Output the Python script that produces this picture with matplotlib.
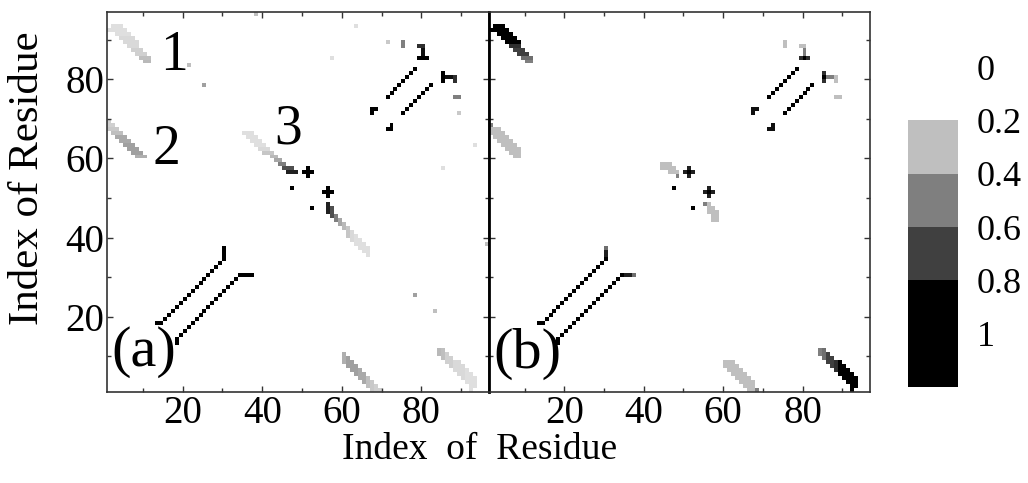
import numpy as np
import matplotlib
matplotlib.use('Agg')
import matplotlib.pyplot as plt
from matplotlib import transforms

plt.rcParams['font.family'] = ['Liberation Serif', 'DejaVu Serif']

N = 96  # number of residues
major_ticks = [20, 40, 60, 80]
minor_ticks = [10, 30, 50, 70, 90]
legend_levels = [0, 0.2, 0.4, 0.6, 0.8, 1.0]
legend_labels = ['0', '0.2', '0.4', '0.6', '0.8', '1']

# contacts above the diagonal (y > x); the map is symmetric, so they get mirrored
# strips given as rows: (y, [x, ...], value)
strip1_a = [(93, [2, 3, 4], 0.1), (92, [1, 2, 3, 4, 5], 0.1), (91, [3, 4, 5, 6], 0.1),
            (90, [4, 5, 6, 7], 0.12), (89, [5, 6, 7, 8], 0.12), (88, [6, 7, 8], 0.12),
            (87, [7, 8, 9], 0.15), (86, [8, 9, 10], 0.15), (85, [9, 10, 11], 0.2),
            (84, [10, 11], 0.22)]
strip2_a = [(69, [1], 0.15), (68, [1, 2], 0.15), (67, [1, 2, 3], 0.17), (66, [2, 3, 4], 0.2),
            (65, [3, 4, 5], 0.27), (64, [4, 5, 6], 0.27), (63, [5, 6, 7], 0.3),
            (62, [6, 7, 8], 0.3), (61, [7, 8, 9], 0.3), (60, [8, 9, 10], 0.25)]
strip3_a = [(66, [35, 36, 37], 0.1), (65, [36, 37, 38], 0.1), (64, [37, 38, 39], 0.1),
            (63, [38, 39, 40], 0.1), (62, [39, 40, 41], 0.12), (61, [40, 41, 42], 0.18),
            (60, [42, 43], 0.22), (59, [43, 44], 0.28), (58, [44, 45], 0.4),
            (57, [45, 46, 47], 0.55), (56, [46, 47, 48], 0.7)]

strip1_b = [(93, [2, 3, 4], 1.0), (92, [1, 2, 3, 4, 5], 1.0), (91, [3, 4, 5, 6], 1.0),
            (90, [4, 5, 6, 7], 0.9), (89, [5, 6, 7, 8], 0.8), (88, [6, 7, 8], 0.65),
            (87, [7, 8, 9], 0.6), (86, [8, 9, 10], 0.6), (85, [9, 10, 11], 0.45),
            (84, [10, 11], 0.4)]
strip2_b = [(68, [1], 0.4), (67, [1, 2, 3], 0.2), (66, [1, 2, 3, 4], 0.2), (65, [2, 3, 4, 5], 0.2),
            (64, [3, 4, 5, 6], 0.2), (63, [4, 5, 6, 7], 0.2), (62, [5, 6, 7, 8], 0.2),
            (61, [6, 7, 8], 0.2), (60, [7, 8], 0.2)]
strip3_b = [(58, [44, 45, 46], 0.2), (57, [44, 45, 46, 47], 0.2), (56, [46, 47, 48], 0.2),
            (55, [48], 0.4)]

# i, i+4 contacts (black dotted lines), same in both panels
helix1 = [(14, 18), (15, 19), (16, 20), (17, 21), (18, 22), (19, 23), (20, 24), (21, 25),
          (22, 26), (23, 27), (24, 28), (25, 29), (26, 30), (27, 31), (28, 32), (29, 33), (30, 34)]
helix2 = [(71, 75), (72, 76), (73, 77), (74, 78), (75, 79), (76, 80), (77, 81), (78, 82)]

# single cells (x, y, value)
cells_a = [(13, 18, 1.0), (30, 35, 0.85), (30, 36, 0.85), (30, 37, 0.85),
           (67, 71, 0.9), (67, 72, 0.9), (68, 72, 0.9),
           (79, 85, 0.9), (80, 85, 0.9), (81, 85, 0.85), (80, 86, 0.75), (80, 87, 0.75),
           (79, 88, 0.65), (80, 88, 0.65), (75, 88, 0.4), (75, 89, 0.4),
           (71, 89, 0.17), (57, 85, 0.1), (63, 93, 0.1), (38, 96, 0.2), (21, 83, 0.2), (25, 78, 0.3),
           (50, 56, 1.0), (51, 56, 1.0), (52, 56, 1.0), (51, 55, 1.0), (51, 57, 1.0), (47, 52, 1.0)]
cells_b = [(13, 18, 0.9), (30, 35, 0.7), (30, 36, 0.7), (30, 37, 0.45),
           (67, 71, 0.75), (67, 72, 0.75), (68, 72, 0.75),
           (79, 85, 0.65), (80, 85, 0.9), (81, 85, 0.65), (80, 86, 0.4), (80, 87, 0.4),
           (79, 88, 0.2), (80, 88, 0.2), (75, 88, 0.2), (75, 89, 0.2),
           (50, 56, 0.7), (51, 56, 1.0), (52, 56, 0.7), (51, 55, 0.7), (51, 57, 0.7), (47, 52, 1.0)]


def contact_matrix(strips, cells):
    m = np.zeros((N, N))
    pts = []
    for rows in strips:
        for y, xs, v in rows:
            pts += [(x, y, v) for x in xs]
    pts += cells
    for x, y, v in pts:
        m[y - 1, x - 1] = v
        m[x - 1, y - 1] = v
    return m


mat_a = contact_matrix([strip1_a, strip2_a, strip3_a], cells_a)
mat_b = contact_matrix([strip1_b, strip2_b, strip3_b], cells_b)

# helix dots, both halves
hx = np.array([p[0] for p in helix1 + helix2] + [p[1] for p in helix1 + helix2]) + 0.5
hy = np.array([p[1] for p in helix1 + helix2] + [p[0] for p in helix1 + helix2]) + 0.5

W, H = 1028, 483
fig = plt.figure(figsize=(W / 100, H / 100), dpi=100)
ax_a = fig.add_axes([107 / W, 91 / H, 382 / W, 380 / H])
ax_b = fig.add_axes([489 / W, 91 / H, 381 / W, 380 / H])

for ax, mat in [(ax_a, mat_a), (ax_b, mat_b)]:
    ax.imshow(mat, cmap='gray_r', vmin=0, vmax=0.8, origin='lower',
              extent=[1, N + 1, 1, N + 1], interpolation='nearest', aspect='auto')
    ax.scatter(hx, hy, marker='s', s=6.5, c='black', linewidths=0)
    ax.set_xlim(1, N + 1)
    ax.set_ylim(1, N + 1)
    ax.set_xticks(major_ticks)
    ax.set_yticks(major_ticks)
    ax.set_xticks(minor_ticks, minor=True)
    ax.set_yticks(minor_ticks, minor=True)
    ax.tick_params(which='both', direction='in', top=True, right=True, color='#333333',
                   labelsize=28, pad=2)
    ax.tick_params(which='major', length=4, width=1)
    ax.tick_params(which='minor', length=2.6, width=1)
    for s in ax.spines.values():
        s.set_color('#333333')
        s.set_linewidth(1.2)

ax_b.tick_params(labelleft=False)
ax_b.spines['left'].set_color('black')
ax_b.spines['left'].set_linewidth(2)

# legend bar
cax = fig.add_axes([908 / W, 96 / H, 50 / W, 320 / H])
cax.imshow(np.array(legend_levels).reshape(-1, 1), cmap='gray_r', vmin=0, vmax=0.8,
           extent=[0, 1, 1.2, 0], aspect='auto', interpolation='nearest')
cax.set_ylim(1.2, 0)
cax.axis('off')
tr = transforms.blended_transform_factory(cax.transAxes, cax.transData)
for v, lbl in zip(legend_levels, legend_labels):
    cax.text(1.38, v + 0.015, lbl, transform=tr, ha='left', va='center', fontsize=26)

fig.text(28 / W, 1 - 178 / H, 'Index of Residue', rotation=90, ha='center', va='center', fontsize=31)
fig.text(480 / W, 1 - 450 / H, 'Index  of  Residue', ha='center', va='center', fontsize=27)
fig.text(144 / W, 1 - 352 / H, '(a)', ha='center', va='center', fontsize=42)
fig.text(527 / W, 1 - 354 / H, '(b)', ha='center', va='center', fontsize=42)
fig.text(174 / W, 1 - 56 / H, '1', ha='center', va='center', fontsize=40)
fig.text(166 / W, 1 - 150 / H, '2', ha='center', va='center', fontsize=40)
fig.text(288 / W, 1 - 129 / H, '3', ha='center', va='center', fontsize=40)

fig.savefig('out.png', dpi=100)
